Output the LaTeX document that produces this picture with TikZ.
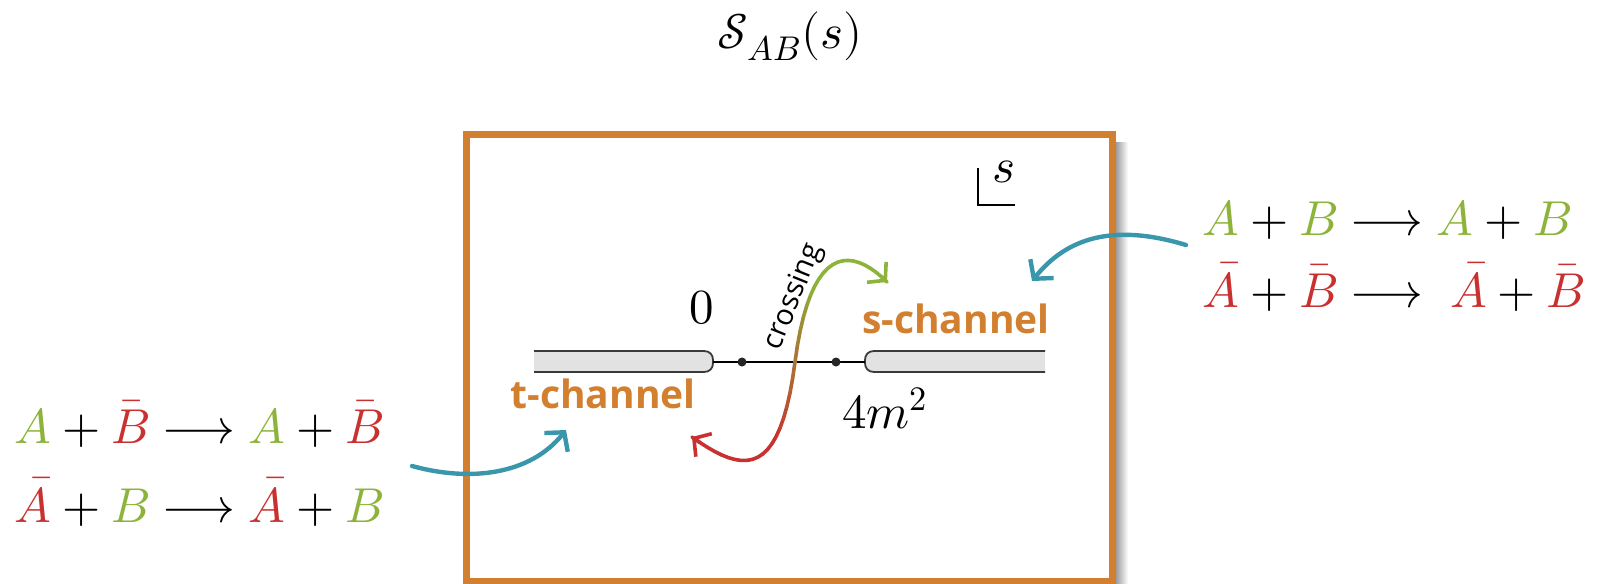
\documentclass[tikz,border=0pt]{standalone}
\usepackage{fontspec}
\usepackage{unicode-math}
\setmathfont{Latin Modern Math}
\setsansfont{Open Sans}
\usetikzlibrary{arrows.meta,calc}
\definecolor{cgreen}{HTML}{8DB33A}
\definecolor{cred}{HTML}{C8312F}
\definecolor{corange}{HTML}{D2802F}
\definecolor{cteal}{HTML}{3A96AB}
\definecolor{cbar}{HTML}{E2E2E2}
\definecolor{cbarline}{HTML}{3A3A3A}
\newcommand{\G}[1]{{\color{cgreen}#1}}
\newcommand{\R}[1]{{\color{cred}#1}}
\begin{document}
\begin{tikzpicture}[x=0.5pt,y=-0.5pt,
  mathtxt/.style={inner sep=0pt,font=\fontsize{24.5}{28}\selectfont},
  chan/.style={inner sep=0pt,text=corange,font=\sffamily\bfseries\fontsize{19.5}{24}\selectfont},
  tealarrow/.style={cteal,line width=2.2pt,line cap=round,-{Straight Barb[length=6.5pt,width=15pt,line width=2.2pt]}},
  crossseg/.style={line width=1.8pt,line cap=round},
  crosstip/.style={line width=1.8pt,line cap=round,-{Straight Barb[length=6pt,width=14pt,line width=1.8pt]}},
  cutbar/.style={fill=cbar,draw=cbarline,line width=0.9pt},
  pole/.style={circle,fill=black!85,inner sep=0pt,minimum size=4.5pt}]
\useasboundingbox (0,0) rectangle (1597,584);
% title
\node[mathtxt,anchor=base] (title) at (790,48) {$\mathcal{S}_{AB}(s)$};
% box with shadow
\shade[left color=black!45,right color=white] (1114,142) rectangle (1128,584);
\draw[corange,line width=3.5pt] (466,134) rectangle (1112,581);
% s-plane corner mark
\draw[line width=0.6pt] (978,168) -- (978,205) -- (1015,205);
\node[mathtxt,anchor=base] (svar) at (1004,182) {$s$};
% cuts
\path[cutbar] (534,351) -- (704,351) .. controls (710,351) and (713,355) .. (713,360) -- (713,363) .. controls (713,368) and (710,372) .. (704,372) -- (534,372);
\path[cutbar] (1045,351) -- (874,351) .. controls (868,351) and (865,355) .. (865,360) -- (865,363) .. controls (865,368) and (868,372) .. (874,372) -- (1045,372);
\coordinate (cutL) at (713,362);
\coordinate (cutR) at (865,362);
\draw[line width=0.7pt] (cutL) -- (cutR);
\node[pole] (p1) at (742,362) {};
\node[pole] (p2) at (836,362) {};
% labels
\node[mathtxt,anchor=base] (zero) at (702,323) {$0$};
\node[mathtxt,anchor=base] (fourm) at (885,428) {$4m^2$};
\node[chan,anchor=base] (schan) at (956,333) {s-channel};
\node[chan,anchor=base east] (tchan) at (696,408) {t-channel};
\node[inner sep=0pt,font=\sffamily\fontsize{14.5}{16}\selectfont,rotate=68] (cross) at (794,297) {crossing};
% crossing curve (gradient red -> green)
\path (692,437) .. controls (745,475) and (780,478) .. (795,362)
  \foreach \k in {0,...,20}{ coordinate[pos=\k/20] (a\k) };
\path (795,362) .. controls (810,246) and (850,245) .. (887,282)
  \foreach \k in {0,...,20}{ coordinate[pos=\k/20] (b\k) };
\foreach \k [evaluate=\k as \m using int(\k+1), evaluate=\k as \c using {max(0,min(100,(0.65-(\k+0.5)/40)/0.3*100))}] in {0,...,19}{
  \draw[crossseg,color=cred!\c!cgreen] (a\k) -- (a\m);
}
\foreach \k [evaluate=\k as \m using int(\k+1), evaluate=\k as \c using {max(0,min(100,(0.65-(\k+20.5)/40)/0.3*100))}] in {0,...,19}{
  \draw[crossseg,color=cred!\c!cgreen] (b\k) -- (b\m);
}
\draw[crosstip,cred] (a1) -- (a0);
\draw[crosstip,cgreen] (b19) -- (b20);
% reactions
\node[mathtxt,anchor=base west] (r1) at (1202,235) {$\G{A}+\G{B}\longrightarrow\G{A}+\G{B}$};
\node[mathtxt,anchor=base west] (r2) at (1202,307) {$\R{\bar A}+\R{\bar B}\longrightarrow\;\R{\bar A}+\R{\bar B}$};
\node[mathtxt,anchor=base west] (l1) at (14,443) {$\G{A}+\R{\bar B}\longrightarrow\G{A}+\R{\bar B}$};
\node[mathtxt,anchor=base west] (l2) at (14,522) {$\R{\bar A}+\G{B}\longrightarrow\R{\bar A}+\G{B}$};
% teal arrows
\coordinate (rs) at (1186,245);
\coordinate (re) at (1032,281);
\coordinate (ls) at (412,466);
\coordinate (le) at (566,430);
\draw[tealarrow] (rs) .. controls (1110,222) and (1065,240) .. (re);
\draw[tealarrow] (ls) .. controls (470,482) and (530,475) .. (le);
\end{tikzpicture}
\end{document}
